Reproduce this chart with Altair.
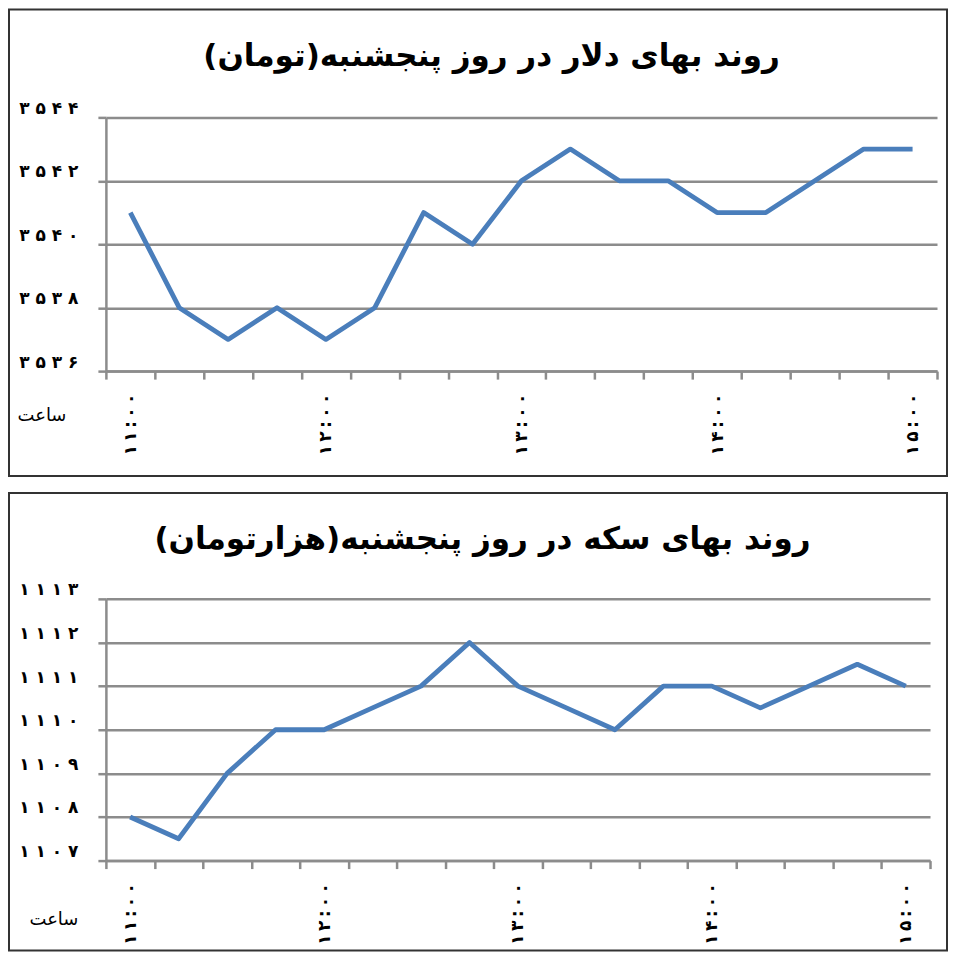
import json
import altair as alt
import pandas as pd

# ---- data ----
dollar_values = [3541, 3538, 3537, 3538, 3537, 3538, 3541, 3540, 3542,
                 3543, 3542, 3542, 3541, 3541, 3542, 3543, 3543]
coin_values = [1108, 1107.5, 1109, 1110, 1110, 1110.5, 1111, 1112, 1111,
               1110.5, 1110, 1111, 1111, 1110.5, 1111, 1111.5, 1111]
hour_labels = ['۱۱:۰۰', '۱۲:۰۰', '۱۳:۰۰', '۱۴:۰۰', '۱۵:۰۰']
dollar_ticks = [3536, 3538, 3540, 3542, 3544]
dollar_tick_labels = ['۳۵۳۶', '۳۵۳۸', '۳۵۴۰', '۳۵۴۲', '۳۵۴۴']
coin_ticks = [1107, 1108, 1109, 1110, 1111, 1112, 1113]
coin_tick_labels = ['۱۱۰۷', '۱۱۰۸', '۱۱۰۹', '۱۱۱۰', '۱۱۱۱', '۱۱۱۲', '۱۱۱۳']
title_dollar = 'روند بهای دلار در روز پنجشنبه(تومان)'
title_coin = 'روند بهای سکه در روز پنجشنبه(هزارتومان)'
x_title = 'ساعت'

FONT = 'DejaVu Sans'
LINE = '#4A7EBB'
GRID = '#8c8c8c'
FRAME = '#333333'
THIN = '\u2009'


def panel(values, ticks, tick_labels, title, W, H, frame, title_pos, xt_pos):
    n = len(values)
    df = pd.DataFrame({'i': list(range(n)), 'v': values})
    one = pd.DataFrame({'a': [0]})
    band = W / n
    x_ticks = [k - 0.5 for k in range(n + 1)]
    spaced_hours = [THIN.join(list(h)) for h in hour_labels]
    x_expr = ("(datum.value + 0.5) % 4 == 0 ? " + json.dumps(spaced_hours, ensure_ascii=False)
              + "[(datum.value + 0.5) / 4] : ''")
    spaced = [' '.join(list(t)) for t in tick_labels]
    y_expr = (json.dumps(spaced, ensure_ascii=False) + "[indexof(" + json.dumps(ticks)
              + ", datum.value)]")
    common = dict(domainColor=GRID, domainWidth=2.5, tickColor=GRID, tickWidth=2.5,
                  gridColor=GRID, gridWidth=2.5, tickSize=8, labelFont=FONT,
                  labelFontWeight='bold', labelColor='black')

    line = alt.Chart(df).mark_line(color=LINE, strokeWidth=4.8, strokeJoin='round').encode(
        x=alt.X('i:Q', title=None,
                scale=alt.Scale(domain=[-0.5, n - 0.5], nice=False, zero=False),
                axis=alt.Axis(values=x_ticks, labelExpr=x_expr, labelAngle=-90,
                              labelOffset=band / 2, labelPadding=14, grid=False,
                              labelFontSize=17, **common)),
        y=alt.Y('v:Q', title=None,
                scale=alt.Scale(domain=[ticks[0], ticks[-1]], nice=False, zero=False),
                axis=alt.Axis(values=ticks, labelExpr=y_expr, grid=True,
                              labelPadding=20, labelBaseline='bottom',
                              labelFontSize=17, **common)),
    )
    fx1, fx2, fy1, fy2 = frame
    box = alt.Chart(one).mark_rect(fill='transparent', stroke=FRAME, strokeWidth=2).encode(
        x=alt.value(fx1), x2=alt.value(fx2), y=alt.value(fy1), y2=alt.value(fy2))
    ttl = alt.Chart(one).mark_text(text=title, font=FONT, fontSize=31, fontWeight='bold',
                                   color='black', align='center', baseline='middle').encode(
        x=alt.value(title_pos[0]), y=alt.value(title_pos[1]))
    xt = alt.Chart(one).mark_text(text=x_title, font=FONT, fontSize=18,
                                  color='black', align='center', baseline='middle').encode(
        x=alt.value(xt_pos[0]), y=alt.value(xt_pos[1]))
    return alt.layer(box, line, ttl, xt).properties(width=W, height=H)


top = panel(dollar_values, dollar_ticks, dollar_tick_labels, title_dollar,
            W=832, H=254, frame=(-97, 842, -108, 359),
            title_pos=(386, -60), xt_pos=(-64, 299))
bottom = panel(coin_values, coin_ticks, coin_tick_labels, title_coin,
               W=825, H=262, frame=(-97, 842, -106, 352),
               title_pos=(377, -59), xt_pos=(-52, 321))

chart = alt.vconcat(top, bottom, spacing=15).properties(
    padding=0, background='white'
).configure_view(strokeWidth=0)

chart.save("out.html", embed_options={"renderer": "svg", "actions": False})
